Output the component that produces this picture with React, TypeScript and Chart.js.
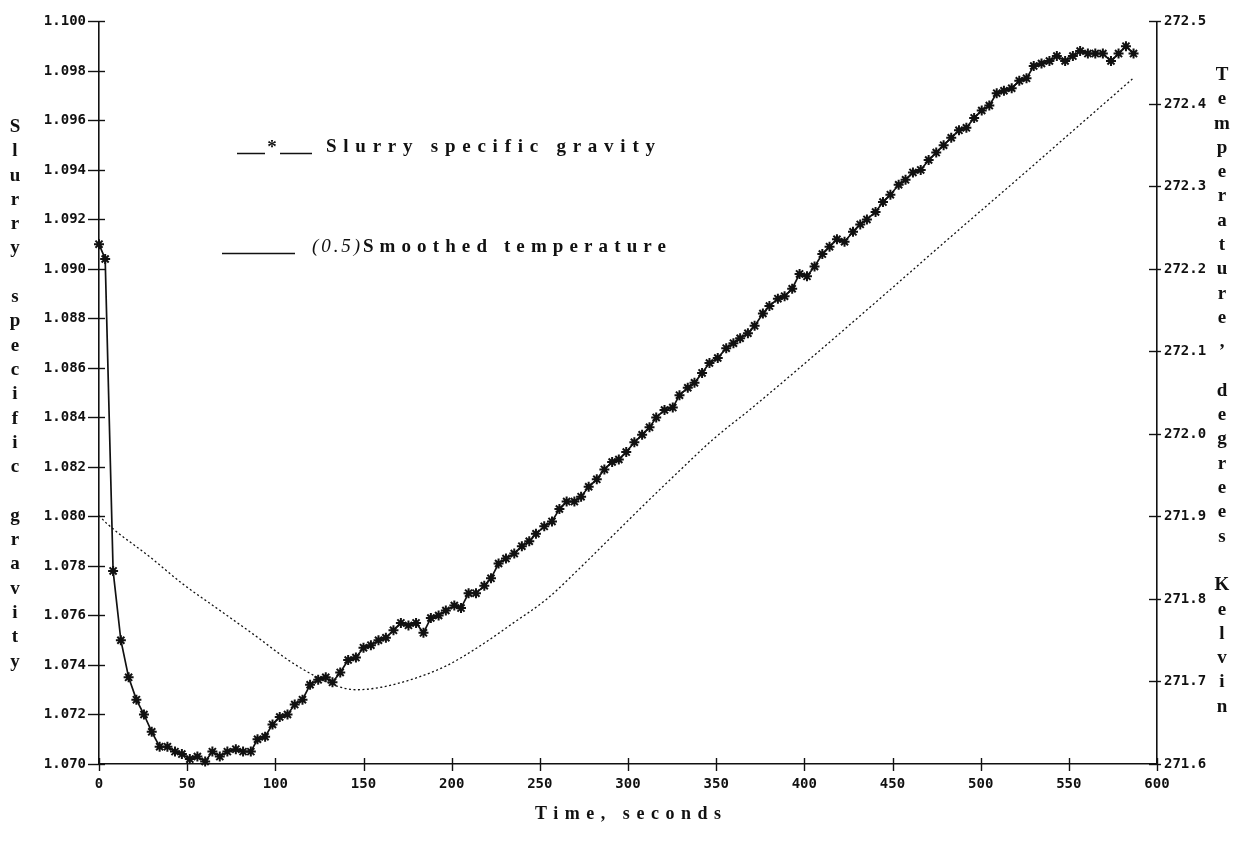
import React, { useEffect, useRef } from "react";
import { Chart, registerables } from "chart.js";

Chart.register(...registerables);

// ---- data ----
const gravityTimes = [
  0, 3.5, 8, 12.4, 16.8, 21.2, 25.5, 29.9, 34.4, 38.8,
  43.1, 47.0, 51.5, 55.8, 60.2, 64.3, 68.5, 72.8, 77.6, 81.7,
  86.1, 89.9, 94.2, 98.4, 102.5, 106.9, 111.0, 115.4, 119.7, 124.3,
  128.6, 132.4, 136.8, 141.3, 145.7, 150.0, 154.2, 158.5, 162.7, 167.0,
  171.2, 175.5, 179.8, 184.0, 188.2, 192.6, 196.7, 201.5, 205.3, 209.6,
  213.8, 218.5, 222.3, 226.6, 230.8, 235.5, 239.8, 244.0, 247.8, 252.5,
  256.9, 261.1, 265.2, 269.6, 273.4, 277.7, 282.3, 286.6, 291.0, 294.8,
  299.0, 303.6, 308.0, 312.2, 316.0, 320.7, 325.4, 329.2, 333.9, 337.7,
  342.0, 346.2, 350.9, 355.7, 359.8, 363.6, 368.0, 371.8, 376.5, 380.2,
  385.0, 388.8, 393.1, 397.3, 401.5, 405.8, 410.2, 414.3, 418.5, 422.8,
  427.6, 431.7, 435.5, 440.4, 444.6, 448.8, 453.5, 457.4, 461.6, 466.0,
  470.5, 474.8, 479.0, 483.3, 487.7, 491.9, 496.3, 500.6, 504.9, 509.1,
  513.2, 517.6, 521.9, 526.0, 530.1, 534.5, 539.0, 543.2, 547.9, 552.3,
  556.4, 560.8, 565.0, 569.3, 573.9, 578.2, 582.4, 586.7,
];

const gravityValues = [
  1.0910, 1.0904, 1.0778, 1.0750, 1.0735, 1.0726, 1.0720, 1.0713, 1.0707, 1.0707,
  1.0705, 1.0704, 1.0702, 1.0703, 1.0701, 1.0705, 1.0703, 1.0705, 1.0706, 1.0705,
  1.0705, 1.0710, 1.0711, 1.0716, 1.0719, 1.0720, 1.0724, 1.0726, 1.0732, 1.0734,
  1.0735, 1.0733, 1.0737, 1.0742, 1.0743, 1.0747, 1.0748, 1.0750, 1.0751, 1.0754,
  1.0757, 1.0756, 1.0757, 1.0753, 1.0759, 1.0760, 1.0762, 1.0764, 1.0763, 1.0769,
  1.0769, 1.0772, 1.0775, 1.0781, 1.0783, 1.0785, 1.0788, 1.0790, 1.0793, 1.0796,
  1.0798, 1.0803, 1.0806, 1.0806, 1.0808, 1.0812, 1.0815, 1.0819, 1.0822, 1.0823,
  1.0826, 1.0830, 1.0833, 1.0836, 1.0840, 1.0843, 1.0844, 1.0849, 1.0852, 1.0854,
  1.0858, 1.0862, 1.0864, 1.0868, 1.0870, 1.0872, 1.0874, 1.0877, 1.0882, 1.0885,
  1.0888, 1.0889, 1.0892, 1.0898, 1.0897, 1.0901, 1.0906, 1.0909, 1.0912, 1.0911,
  1.0915, 1.0918, 1.0920, 1.0923, 1.0927, 1.0930, 1.0934, 1.0936, 1.0939, 1.0940,
  1.0944, 1.0947, 1.0950, 1.0953, 1.0956, 1.0957, 1.0961, 1.0964, 1.0966, 1.0971,
  1.0972, 1.0973, 1.0976, 1.0977, 1.0982, 1.0983, 1.0984, 1.0986, 1.0984, 1.0986,
  1.0988, 1.0987, 1.0987, 1.0987, 1.0984, 1.0987, 1.0990, 1.0987,
];

const temperatureTimes = [
  0, 4.7, 30, 47, 68, 89, 108, 123, 134, 146, 160, 178, 197, 216,
  235, 254, 272, 291, 310, 329, 348, 370, 406, 445, 482, 521, 558, 587,
];

const temperatureValues = [
  271.901, 271.891, 271.849, 271.819, 271.787, 271.755, 271.725, 271.706, 271.695, 271.690,
  271.693, 271.703, 271.719, 271.743, 271.771, 271.800, 271.836, 271.876, 271.916, 271.955,
  271.993, 272.031, 272.096, 272.168, 272.237, 272.309, 272.378, 272.432,
];

const timeTicks = [0, 50, 100, 150, 200, 250, 300, 350, 400, 450, 500, 550, 600];
const gravityTicks = [
  1.070, 1.072, 1.074, 1.076, 1.078, 1.080, 1.082, 1.084,
  1.086, 1.088, 1.090, 1.092, 1.094, 1.096, 1.098, 1.100,
];
const temperatureTicks = [271.6, 271.7, 271.8, 271.9, 272.0, 272.1, 272.2, 272.3, 272.4, 272.5];

const gravityLegend = "Slurry specific gravity";
const temperatureLegendPrefix = "(0.5)";
const temperatureLegendMain = "Smoothed temperature";
const leftAxisTitle = "Slurry specific gravity";
const rightAxisTitle = "Temperature, degrees Kelvin";
const xAxisTitle = "Time, seconds";

// ---- styling ----
const INK = "#111111";
const tickFont = { family: "'DejaVu Sans Mono', monospace", size: 14, weight: "bold" as const };
const SERIF = "'Liberation Serif', 'DejaVu Serif', serif";

function fitText(ctx: CanvasRenderingContext2D, text: string, x: number, y: number, width: number) {
  (ctx as any).letterSpacing = "0px";
  const w = ctx.measureText(text).width;
  const n = Array.from(text).length;
  const sp = n > 1 ? (width - w) / (n - 1) : 0;
  (ctx as any).letterSpacing = sp.toFixed(2) + "px";
  ctx.textAlign = "left";
  ctx.fillText(text, x, y);
  (ctx as any).letterSpacing = "0px";
  return sp;
}

function stacked(ctx: CanvasRenderingContext2D, text: string, x: number, y0: number, step: number) {
  ctx.textAlign = "center";
  ctx.textBaseline = "middle";
  Array.from(text).forEach((ch, i) => {
    if (ch !== " ") ctx.fillText(ch, x, y0 + i * step);
  });
}

const crossTicksPlugin = {
  id: "crossTicks",
  afterDraw(chart: any) {
    const ctx = chart.ctx as CanvasRenderingContext2D;
    const { left, right, bottom } = chart.chartArea;
    ctx.save();
    ctx.strokeStyle = INK;
    ctx.lineWidth = 1.4;
    const seg = (x1: number, y1: number, x2: number, y2: number) => {
      ctx.beginPath();
      ctx.moveTo(x1, y1);
      ctx.lineTo(x2, y2);
      ctx.stroke();
    };
    const yl = chart.scales.y;
    yl.ticks.forEach((t: any) => {
      const py = Math.round(yl.getPixelForValue(t.value)) + 0.5;
      seg(left - 11, py, left + 6, py);
    });
    const yr = chart.scales.y2;
    yr.ticks.forEach((t: any) => {
      const py = Math.round(yr.getPixelForValue(t.value)) + 0.5;
      seg(right - 8, py, right + 4, py);
    });
    const xs = chart.scales.x;
    xs.ticks.forEach((t: any) => {
      const px = Math.round(xs.getPixelForValue(t.value)) + 0.5;
      seg(px, bottom - 6, px, bottom + 7);
    });
    ctx.restore();
  },
};

const textPlugin = {
  id: "textBlocks",
  afterDraw(chart: any) {
    const ctx = chart.ctx as CanvasRenderingContext2D;
    const { left, right } = chart.chartArea;
    ctx.save();
    ctx.fillStyle = INK;
    ctx.strokeStyle = INK;

    // stacked axis titles
    ctx.font = `bold 19px ${SERIF}`;
    stacked(ctx, leftAxisTitle, 15, 127, 24.3);
    stacked(ctx, rightAxisTitle, 1222, 75, 24.3);

    // x axis title
    ctx.font = `bold 18px ${SERIF}`;
    ctx.textBaseline = "alphabetic";
    const cx = (left + right) / 2;
    fitText(ctx, xAxisTitle, cx - 93, 819, 186);

    // legend entry 1
    ctx.lineWidth = 1.3;
    ctx.beginPath();
    ctx.moveTo(237, 153.5);
    ctx.lineTo(265, 153.5);
    ctx.moveTo(280, 153.5);
    ctx.lineTo(312, 153.5);
    ctx.stroke();
    ctx.font = `bold 19px ${SERIF}`;
    ctx.textAlign = "center";
    ctx.fillText("*", 272, 153);
    fitText(ctx, gravityLegend, 326, 152, 329);

    // legend entry 2
    ctx.beginPath();
    ctx.moveTo(222, 253.5);
    ctx.lineTo(295, 253.5);
    ctx.stroke();
    ctx.font = `italic 19px ${SERIF}`;
    const sp = fitText(ctx, temperatureLegendPrefix, 312, 252, 48);
    ctx.font = `bold 19px ${SERIF}`;
    fitText(ctx, temperatureLegendMain, 312 + 48 + Math.max(sp, 2), 252, 668 - 362 - Math.max(sp, 2));
    ctx.restore();
  },
};

export default function App() {
  const canvasRef = useRef<HTMLCanvasElement | null>(null);

  useEffect(() => {
    if (!canvasRef.current) return;
    const gravityData = gravityTimes.map((t, i) => ({ x: t, y: gravityValues[i] }));
    const temperatureData = temperatureTimes.map((t, i) => ({ x: t, y: temperatureValues[i] }));

    const chart = new Chart(canvasRef.current, {
      type: "line",
      data: {
        datasets: [
          {
            label: gravityLegend,
            data: gravityData,
            yAxisID: "y",
            borderColor: INK,
            borderWidth: 1.7,
            pointStyle: "star",
            pointRadius: 5,
            pointBorderWidth: 2,
            pointBorderColor: INK,
            pointBackgroundColor: INK,
            tension: 0,
            clip: false,
          } as any,
          {
            label: temperatureLegendPrefix + temperatureLegendMain,
            data: temperatureData,
            yAxisID: "y2",
            borderColor: INK,
            borderWidth: 1.3,
            borderDash: [2, 2.5],
            pointRadius: 0,
            cubicInterpolationMode: "monotone",
            clip: false,
          } as any,
        ],
      },
      options: {
        responsive: false,
        animation: false,
        layout: { padding: { top: 16, left: 0, right: 0, bottom: 0 } },
        plugins: {
          legend: { display: false },
          tooltip: { enabled: false },
        },
        scales: {
          x: {
            type: "linear",
            position: "bottom",
            min: 0,
            max: 600,
            afterBuildTicks: (s: any) => {
              s.ticks = timeTicks.map((v) => ({ value: v }));
            },
            afterFit: (s: any) => {
              s.height = 80;
            },
            ticks: {
              color: INK,
              font: tickFont,
              padding: 12,
              maxRotation: 0,
              autoSkip: false,
              callback: (v: any) => String(v),
            },
            grid: { display: true, drawOnChartArea: false, drawTicks: false },
            border: { display: true, color: INK, width: 1.6 },
          },
          y: {
            type: "linear",
            position: "left",
            min: 1.07,
            max: 1.1,
            afterBuildTicks: (s: any) => {
              s.ticks = gravityTicks.map((v) => ({ value: v }));
            },
            afterFit: (s: any) => {
              s.width = 99;
            },
            ticks: {
              color: INK,
              font: tickFont,
              padding: 13,
              autoSkip: false,
              callback: (v: any) => Number(v).toFixed(3),
            },
            grid: { display: true, drawOnChartArea: false, drawTicks: false },
            border: { display: true, color: INK, width: 1.6 },
          },
          y2: {
            type: "linear",
            position: "right",
            min: 271.6,
            max: 272.5,
            afterBuildTicks: (s: any) => {
              s.ticks = temperatureTicks.map((v) => ({ value: v }));
            },
            afterFit: (s: any) => {
              s.width = 92;
            },
            ticks: {
              color: INK,
              font: tickFont,
              padding: 7,
              autoSkip: false,
              callback: (v: any) => Number(v).toFixed(1),
            },
            grid: { display: true, drawOnChartArea: false, drawTicks: false },
            border: { display: true, color: INK, width: 1.6 },
          },
        },
      } as any,
      plugins: [crossTicksPlugin, textPlugin],
    });

    return () => chart.destroy();
  }, []);

  return (
    <div style={{ position: "fixed", left: 0, top: 0, width: 1249, height: 844, background: "#fff" }}>
      <canvas ref={canvasRef} width={1249} height={844} style={{ display: "block" }} />
    </div>
  );
}
